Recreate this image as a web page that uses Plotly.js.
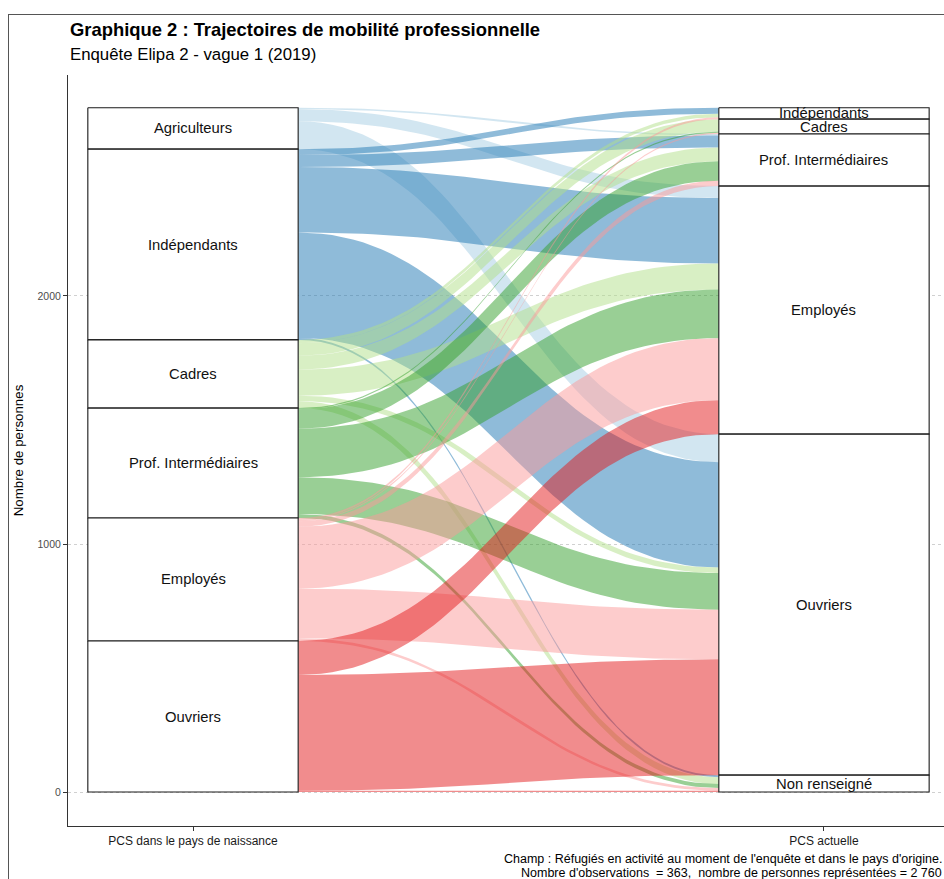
<!DOCTYPE html>
<html><head><meta charset="utf-8">
<script src="https://cdn.plot.ly/plotly-3.0.1.min.js"></script>
<style>
html,body{margin:0;padding:0;background:#fff;}
#chart{width:944px;height:879px;}
#frame{position:absolute;left:8px;top:14px;width:1000px;height:1000px;border-left:1px solid #555;border-top:1px solid #555;pointer-events:none;}
</style>
</head><body>
<div id="chart"></div><div id="frame"></div>
<script>
// ---- Data ----
const originCats = ["Agriculteurs", "Indépendants", "Cadres", "Prof. Intermédiaires", "Employés", "Ouvriers"];
const destCats = ["Indépendants", "Cadres", "Prof. Intermédiaires", "Employés", "Ouvriers", "Non renseigné"];
const axisLabels = ["PCS dans le pays de naissance", "PCS actuelle"];
// number of persons from each origin PCS to each current PCS (destCats order)
const fromAgriculteurs = [0, 0, 6, 48, 113, 0];
const fromIndependants = [24, 0, 48, 264, 425, 8];
const fromCadres       = [14, 50, 56, 105, 22, 28];
const fromProfInter    = [0, 5, 78, 196, 148, 16];
const fromEmployes     = [8, 5, 22, 250, 200, 11];
const fromOuvriers     = [0, 0, 0, 137, 467, 5];
const yTicks = [0, 1000, 2000];

// ---- Styles ----
const originColors = ["166,206,227", "31,120,180", "178,223,138", "51,160,44", "251,154,153", "227,26,28"];
const FONT = "Liberation Sans, Arial, sans-serif";

const flows = [fromAgriculteurs, fromIndependants, fromCadres, fromProfInter, fromEmployes, fromOuvriers];
const nO = originCats.length, nD = destCats.length;
const leftTot = flows.map(r => r.reduce((a, b) => a + b, 0));
const rightTot = destCats.map((_, j) => flows.reduce((a, r) => a + r[j], 0));
const total = leftTot.reduce((a, b) => a + b, 0);

// stratum tops (stacked from top, first category at top)
function tops(arr) { const t = []; let c = total; arr.forEach(v => { t.push(c); c -= v; }); return t; }
const leftTop = tops(leftTot), rightTop = tops(rightTot);

// lode positions
const leftLode = flows.map(() => []), rightLode = flows.map(() => []);
for (let i = 0; i < nO; i++) { let c = leftTop[i]; for (let j = 0; j < nD; j++) { leftLode[i][j] = [c, c - flows[i][j]]; c -= flows[i][j]; } }
for (let j = 0; j < nD; j++) { let c = rightTop[j]; for (let i = 0; i < nO; i++) { rightLode[i][j] = [c, c - flows[i][j]]; c -= flows[i][j]; } }

const W = 1 / 3, x0 = 1 + W / 2, x1 = 2 - W / 2, K = 0.45, N = 48;
function curve(ya, yb) {
  const xs = [], ys = [];
  const dx = x1 - x0;
  for (let k = 0; k <= N; k++) {
    const t = k / N, u = 1 - t;
    xs.push(u*u*u*x0 + 3*u*u*t*(x0 + K*dx) + 3*u*t*t*(x1 - K*dx) + t*t*t*x1);
    ys.push(u*u*u*ya + 3*u*u*t*ya + 3*u*t*t*yb + t*t*t*yb);
  }
  return [xs, ys];
}

const traces = [];
for (let i = 0; i < nO; i++) {
  for (let j = 0; j < nD; j++) {
    if (flows[i][j] <= 0) continue;
    const [lt, lb] = leftLode[i][j], [rt, rb] = rightLode[i][j];
    const top = curve(lt, rt), bot = curve(lb, rb);
    traces.push({
      type: "scatter", mode: "lines", x: top[0].concat(bot[0].slice().reverse()),
      y: top[1].concat(bot[1].slice().reverse()), fill: "toself",
      fillcolor: "rgba(" + originColors[i] + ",0.5)", line: {width: 0},
      hoverinfo: "skip", showlegend: false
    });
  }
}
const annotations = [];
function stratum(xc, topv, v, label) {
  const a = xc - W / 2, b = xc + W / 2;
  traces.push({
    type: "scatter", mode: "lines", x: [a, b, b, a, a], y: [topv, topv, topv - v, topv - v, topv],
    fill: "toself", fillcolor: "#ffffff", line: {color: "#1a1a1a", width: 1.1},
    hoverinfo: "skip", showlegend: false
  });
  annotations.push({x: xc, y: topv - v / 2, xref: "x", yref: "y", text: label, showarrow: false,
    font: {family: FONT, size: 14.8, color: "#111"}});
}
originCats.forEach((c, i) => stratum(1, leftTop[i], leftTot[i], c));
destCats.forEach((c, j) => stratum(2, rightTop[j], rightTot[j], c));

annotations.push({xref: "paper", yref: "paper", x: 0, y: 1.06, xanchor: "left", yanchor: "middle", showarrow: false,
  text: "<b>Graphique 2 : Trajectoires de mobilité professionnelle</b>", font: {family: FONT, size: 18.4, color: "#000"}});
annotations.push({xref: "paper", yref: "paper", x: 0, y: 1.027, xanchor: "left", yanchor: "middle", showarrow: false,
  text: "Enquête Elipa 2 - vague 1 (2019)", font: {family: FONT, size: 16.8, color: "#000"}});
annotations.push({xref: "paper", yref: "paper", x: 1, y: -0.044, xanchor: "right", yanchor: "middle", showarrow: false,
  text: "Champ : Réfugiés en activité au moment de l'enquête et dans le pays d'origine.", font: {family: FONT, size: 12.5, color: "#000"}});
annotations.push({xref: "paper", yref: "paper", x: 1, y: -0.063, xanchor: "right", yanchor: "middle", showarrow: false,
  text: "Nombre d'observations  = 363,  nombre de personnes représentées = 2 760", font: {family: FONT, size: 12.5, color: "#000"}});

const layout = {
  width: 944, height: 879, margin: {l: 68, r: 0, t: 75, b: 53},
  paper_bgcolor: "#fff", plot_bgcolor: "#fff", showlegend: false,
  font: {family: FONT},
  xaxis: {range: [0.8019, 2.1902], tickvals: [1, 2], ticktext: axisLabels, showline: true, linecolor: "#333", linewidth: 1,
    ticks: "outside", ticklen: 4, tickcolor: "#333", showgrid: false, zeroline: false,
    tickfont: {family: FONT, size: 12, color: "#1a1a1a"}, fixedrange: true},
  yaxis: {range: [-137, 2891], tickvals: yTicks, showline: true, linecolor: "#333", linewidth: 1,
    ticks: "outside", ticklen: 4, tickcolor: "#333", showgrid: true, gridcolor: "#d0d0d0", griddash: "dot", gridwidth: 1,
    zeroline: false, tickfont: {family: FONT, size: 10.5, color: "#4d4d4d"},
    title: {text: "Nombre de personnes", font: {family: FONT, size: 13.3, color: "#000"}, standoff: 10}, fixedrange: true},
  annotations: annotations
};
Plotly.newPlot("chart", traces, layout, {staticPlot: true, displayModeBar: false});
</script>
</body></html>
